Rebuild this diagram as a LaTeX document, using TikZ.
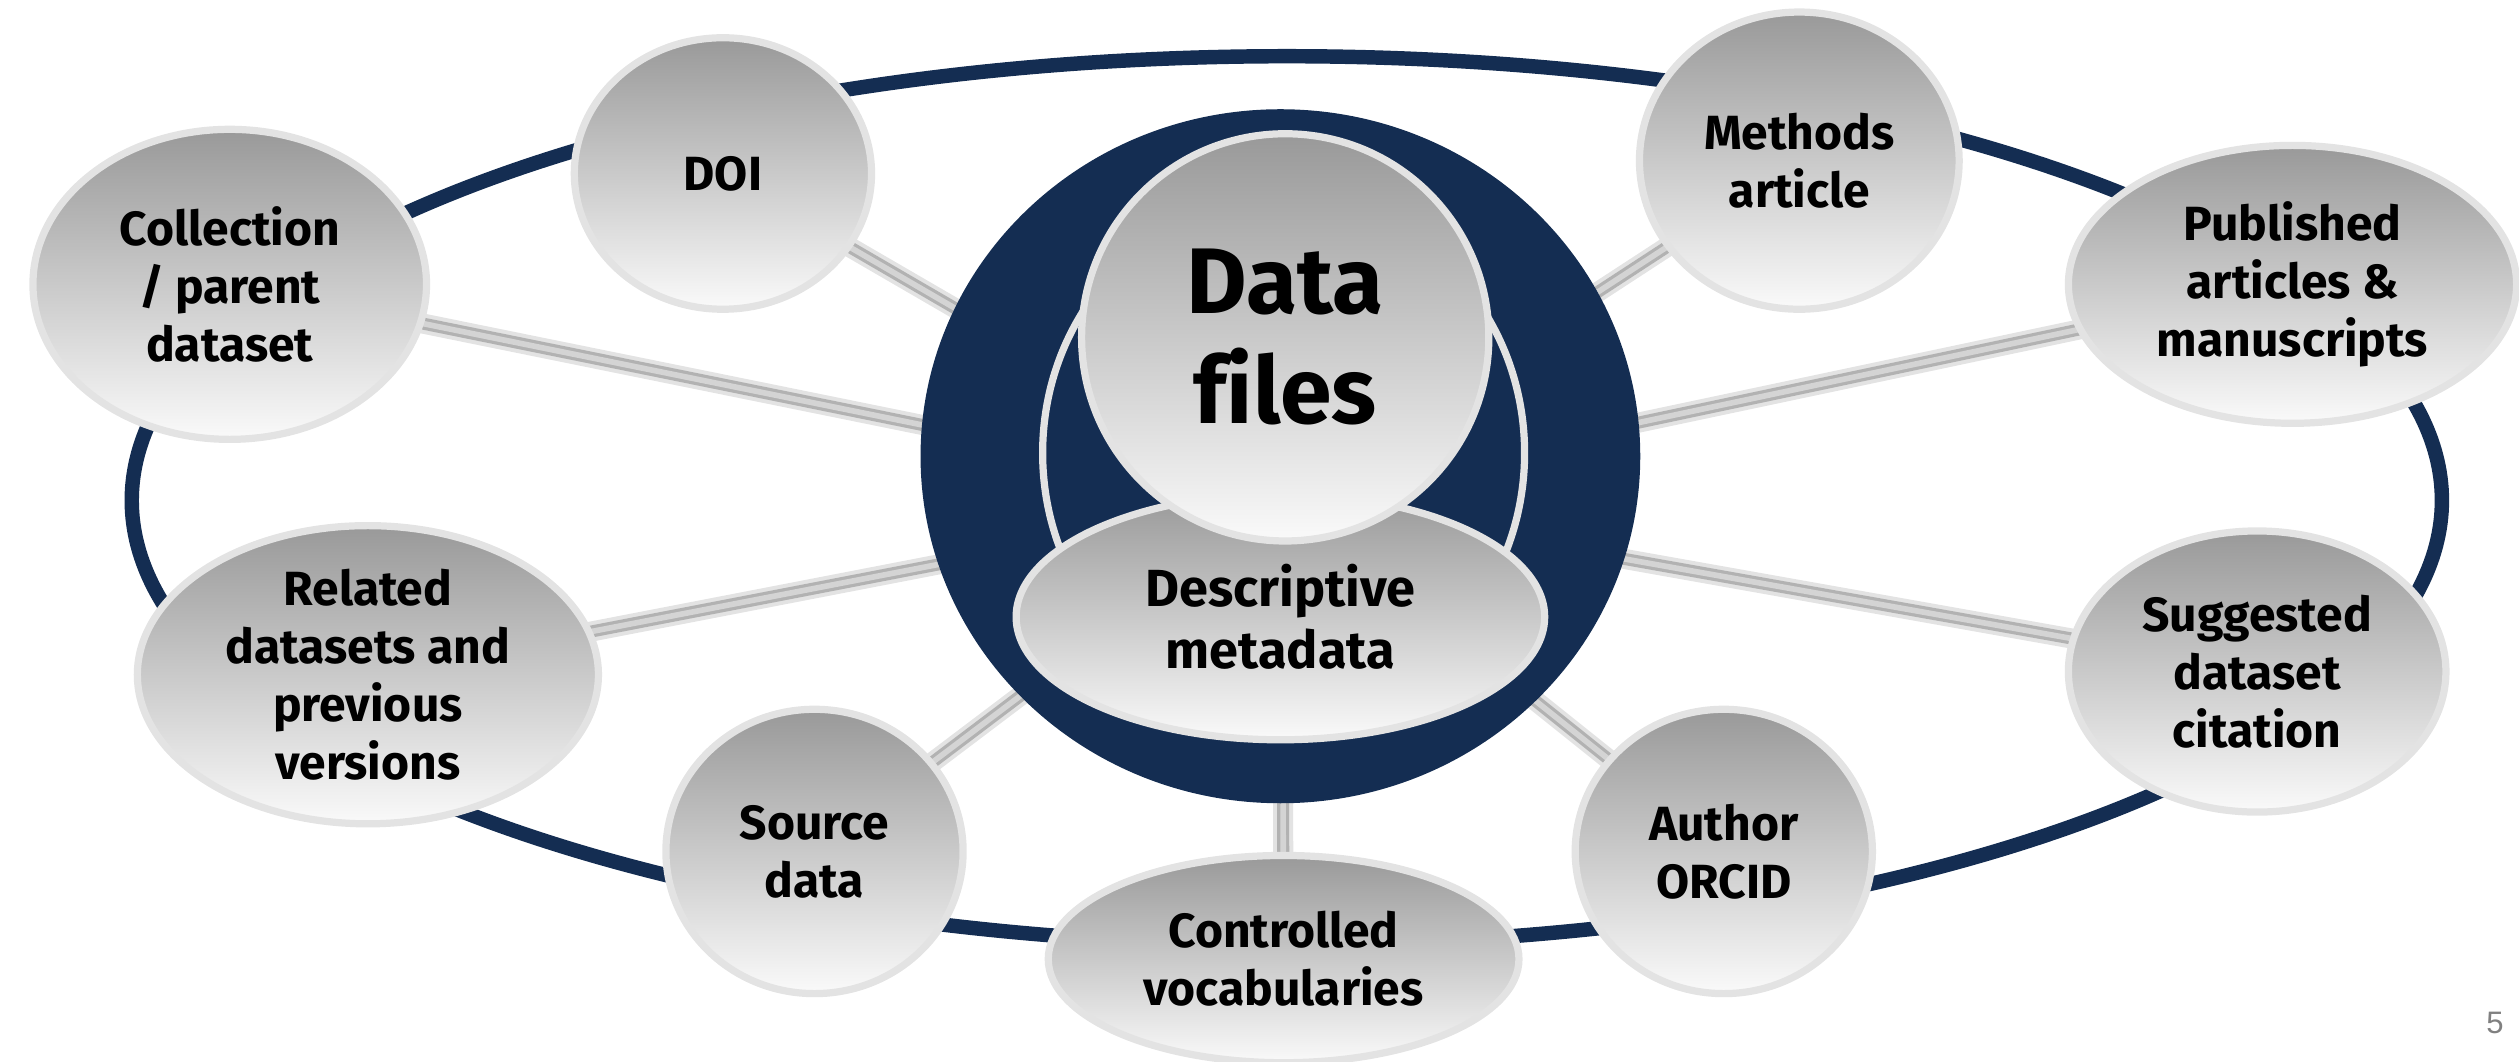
\documentclass[tikz,border=0pt]{standalone}
\usepackage{fontspec}
\setmainfont{Fira Sans}
\newfontfamily\pagefont{Liberation Sans}
\usepackage{tikz}
\usetikzlibrary{shapes.geometric,backgrounds}

\definecolor{navy}{HTML}{142D52}
\definecolor{rim}{HTML}{E3E3E3}

\begin{document}
\begin{tikzpicture}[
    bubble/.style={ellipse, draw=rim, line width=0.09cm, top color=black!40, bottom color=black!2,
        inner sep=0pt, align=center, font=\fontsize{17}{20.5}\selectfont\bfseries},
    tube/.style={draw=rim, line width=0.25cm,
        postaction={draw=black!30, line width=0.15cm},
        postaction={draw=black!17, line width=0.07cm}}
]

    %% Background
    \useasboundingbox (0,0) rectangle (31.36,13.22);

    % Outer ring
    \draw[navy, line width=0.18cm] (16.02,6.99) ellipse [x radius=14.38, y radius=5.53];

    % Core
    \node[ellipse, fill=navy, minimum width=8.96cm, minimum height=8.64cm, inner sep=0pt] (core) at (15.94,7.54) {};
    \draw[rim, line width=0.09cm] (15.98,7.58) ellipse [x radius=3.0, y radius=3.18];
    \coordinate (hub) at (15.96,7.02);

    \node[bubble, minimum width=6.58cm, minimum height=3.06cm, font=\fontsize{18.5}{22}\selectfont\bfseries]
        (meta) at (15.94,5.54) {Descriptive\\metadata};
    \node[bubble, minimum width=5.07cm, minimum height=5.07cm,
        font=\fontsize{33}{39}\selectfont\bfseries\addfontfeatures{Ligatures=NoCommon}]
        (files) at (16.0,9.02) {Data\\files};

    % Bubbles
    \node[bubble, minimum width=3.7cm, minimum height=3.38cm] (doi) at (9.0,11.06) {DOI};
    \node[bubble, minimum width=4.9cm, minimum height=3.86cm] (coll) at (2.86,9.68) {Collection\\/ parent\\dataset};
    \node[bubble, minimum width=3.98cm, minimum height=3.7cm] (meth) at (22.4,11.22) {Methods\\article};
    \node[bubble, minimum width=5.58cm, minimum height=3.46cm] (publ) at (28.54,9.68) {Published\\articles \&\\manuscripts};
    \node[bubble, minimum width=5.74cm, minimum height=3.7cm] (rel) at (4.58,4.82) {Related\\datasets and\\previous\\versions};
    \node[bubble, minimum width=4.7cm, minimum height=3.5cm] (sugg) at (28.1,4.86) {Suggested\\dataset\\citation};
    \node[bubble, minimum width=3.7cm, minimum height=3.54cm] (src) at (10.14,2.62) {Source\\data};
    \node[bubble, minimum width=5.86cm, minimum height=2.58cm] (ctrl) at (15.98,1.28) {Controlled\\vocabularies};
    \node[bubble, minimum width=3.7cm, minimum height=3.54cm] (auth) at (21.46,2.62) {Author\\ORCID};

    % Links
    \begin{scope}[on background layer]
    \foreach \b in {doi,coll,meth,publ,rel,sugg,src,ctrl,auth}
    {
    \draw[tube] (\b.center) -- (hub);
    }
    \end{scope}

    % Page number
    \node[text=black!50, font=\pagefont\fontsize{11}{13}\selectfont] (page) at (31.06,0.48) {5};

\end{tikzpicture}
\end{document}
